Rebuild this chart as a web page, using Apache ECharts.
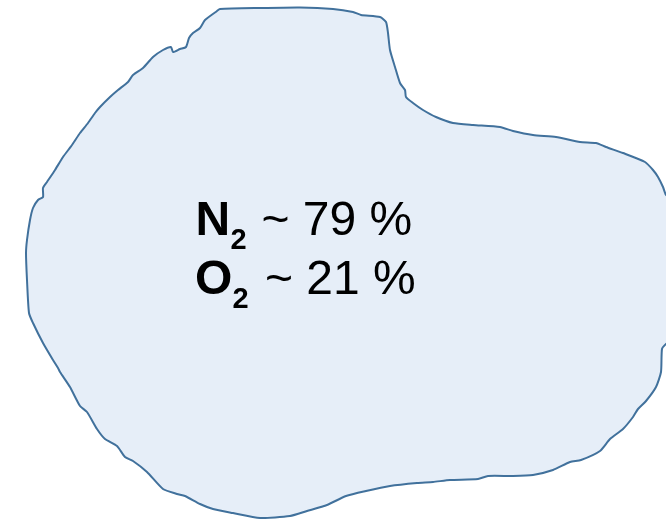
<!DOCTYPE html>
<html>
<head>
<meta charset="utf-8">
<script src="https://cdn.jsdelivr.net/npm/echarts@6/dist/echarts.min.js"></script>
<style>html,body{margin:0;padding:0;background:#fff;}#c{width:666px;height:519px;}</style>
</head>
<body>
<div id="c"></div>
<script>
// Outline of the air "blob" (x, y in picture units, y downward)
var outlineX = [220,260,300,333,353,361,380,386,388,390,395,400,405,406,413,423,436,453,473,500,513,533,556,580,596,606,623,645,653,658,663,666,672,672,666,662,661,656,646,638,633,623,610,600,581,570,553,533,513,488,478,450,433,417,390,366,346,327,307,290,260,233,213,200,185,177,163,147,133,125,117,105,97,87,80,70,60,58,53,43,33,29,27,26,27,30,33,38,43,43,47,55,63,72,80,88,95,100,110,118,128,133,143,153,163,171,173,180,186,189,193,200,205,217];
var outlineY = [9,8,7.5,9,12,15,17,22,33,50,67,83,90,97,103,110,117,123,125,127,131,135,137,142,143,147,153,162,170,177,187,195,200,340,344,349,372,387,401,409,417,429,439,451,460,462,470,475,476,476,479,480,482,483,486,491,496,505,511,516,518,513,509,504,496,494,489,472,461,457,446,439,429,412,406,387,372,368,360,343,323,313,280,253,240,220,208,200,197,188,182,170,157,145,133,123,113,107,97,90,82,75,68,57,50,47,52,49,47,38,33,28,20,11];

var gasNames = ['N', 'O'];
var gasSub = ['2', '2'];
var gasShares = ['~ 79 %', '~ 21 %'];

var chart = echarts.init(document.getElementById('c'), null, {renderer: 'canvas'});

var fontFam = 'Liberation Sans';
var textEls = [];
var baseY = [237, 296];
var nameX = [195.5, 195];
var subX = [230.5, 232.5];
var restX = [261.5, 265];
function txt(x, y, s, size, weight) {
  return {type: 'text', x: x, y: y, z: 100, zlevel: 0,
    style: {text: s, fill: '#000000', fontSize: size, fontWeight: weight, fontFamily: fontFam,
      verticalAlign: 'bottom', align: 'left'}};
}
for (var i = 0; i < gasNames.length; i++) {
  textEls.push(txt(nameX[i], baseY[i] + 9, gasNames[i], 48, 'bold'));
  textEls.push(txt(subX[i], baseY[i] + 11 + 7, gasSub[i], 29, 'bold'));
  textEls.push(txt(restX[i], baseY[i] + 9, gasShares[i], 48, 'normal'));
}

chart.setOption({
  animation: false,
  backgroundColor: '#ffffff',
  grid: {left: 0, right: 0, top: 0, bottom: 0},
  xAxis: {type: 'value', min: 0, max: 666, show: false},
  yAxis: {type: 'value', min: 0, max: 519, inverse: true, show: false},
  series: [{
    type: 'custom',
    coordinateSystem: 'cartesian2d',
    clip: false,
    z: 1,
    data: [[0, 0]],
    renderItem: function (params, api) {
      var pts = outlineX.map(function (x, k) { return api.coord([x, outlineY[k]]); });
      return {
        type: 'polygon',
        shape: {points: pts, smooth: 0.2},
        style: {fill: '#e6eef8', stroke: '#41719c', lineWidth: 2}
      };
    }
  }],
  graphic: {elements: textEls}
});
</script>
</body>
</html>
